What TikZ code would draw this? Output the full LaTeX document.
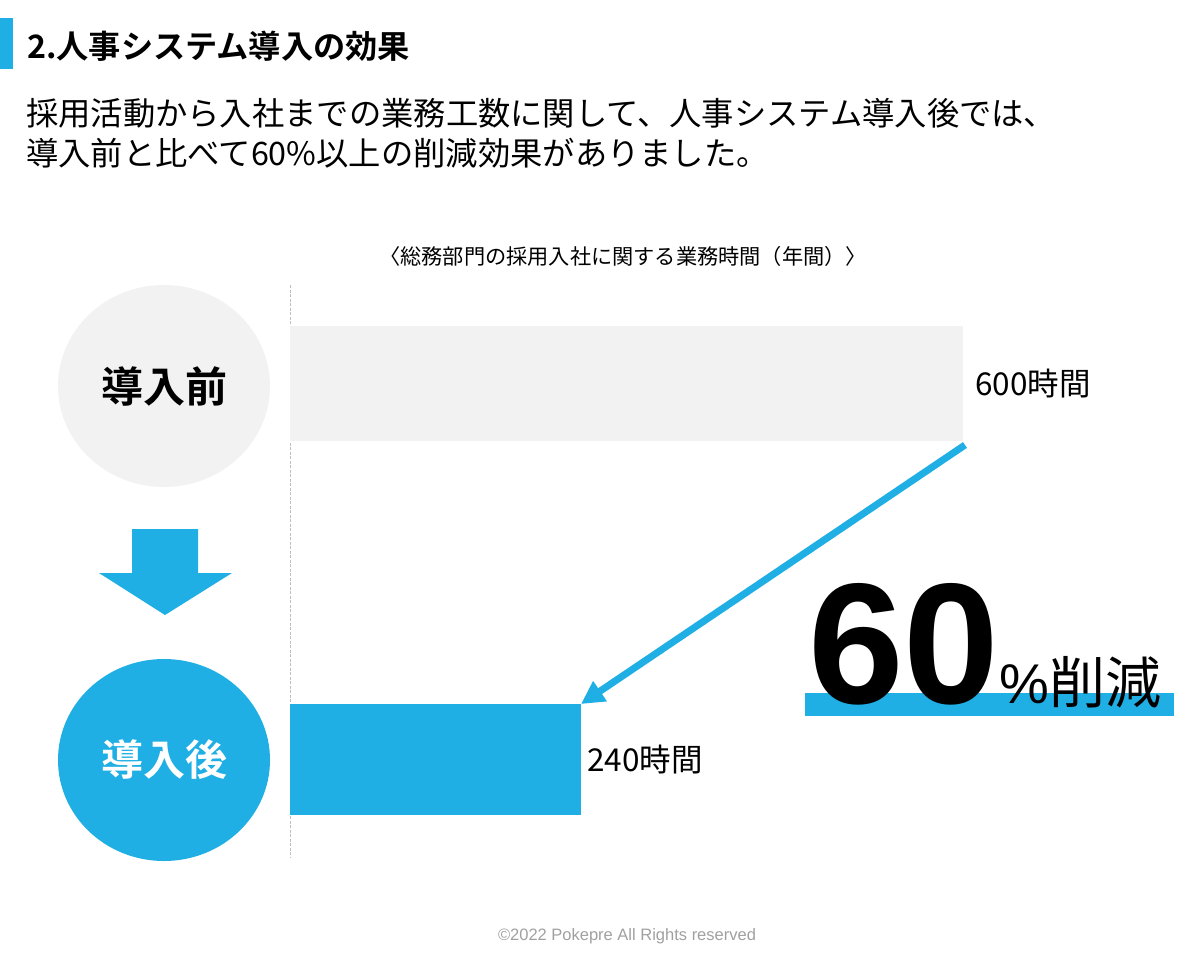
\documentclass[tikz,border=0pt]{standalone}
\usepackage{fontspec}
\setmainfont{Liberation Sans}
\newfontfamily\jp{Noto Sans CJK JP}[BoldFont={Noto Sans CJK JP Bold}]
\usepackage{tikz}
\usetikzlibrary{arrows.meta, positioning, shapes.geometric}
\definecolor{pkblue}{RGB}{31,175,228}
\definecolor{pkgray}{RGB}{242,242,242}
\definecolor{pkline}{RGB}{191,191,191}
\definecolor{pkfoot}{RGB}{160,160,160}

\begin{document}
\begin{tikzpicture}[x=1pt, y=-1pt,
  phase/.style={ellipse, minimum width=212pt, minimum height=202pt, inner sep=0pt,
    font=\jp\bfseries\fontsize{42}{42}\selectfont},
  bar/.style={anchor=north west, inner sep=0pt, outer sep=0pt},
  hours/.style={anchor=west, inner sep=0pt, font=\jp\fontsize{31.5}{31.5}\selectfont}
]
\useasboundingbox (0,0) rectangle (1200,962);

\fill[pkblue] (0,18) rectangle (13,69);
\node[anchor=west, inner sep=0pt, font=\jp\bfseries\fontsize{32.2}{32.2}\selectfont] (title) at (27,46) {2.人事システム導入の効果};
\node[anchor=west, inner sep=0pt, align=left, font=\jp\fontsize{32.3}{40}\selectfont] (lead) at (26,133)
  {採用活動から入社までの業務工数に関して、人事システム導入後では、\\導入前と比べて60\%以上の削減効果がありました。};
\node[inner sep=0pt, font=\jp\fontsize{21.2}{21.2}\selectfont] (caption) at (623,256) {〈総務部門の採用入社に関する業務時間（年間）〉};

\coordinate (axtop) at (290,285);
\coordinate (axbot) at (290,858);
\draw[pkline, line width=0.8pt, dash pattern=on 3pt off 1.5pt] (axtop) -- (axbot);

\node[phase, fill=pkgray] (pre) at (164,386) {導入前};
\node[phase, fill=pkblue, text=white] (post) at (164,760) {導入後};
\fill[pkblue] (132,529) -- (198,529) -- (198,573) -- (232,573) -- (165,615) -- (99,573) -- (132,573) -- cycle;

\node[bar, fill=pkgray, minimum width=673pt, minimum height=115pt] (before) at (290,326) {};
\node[bar, fill=pkblue, minimum width=291pt, minimum height=111pt] (after) at (290,704) {};
\node[hours, right=12pt of before] (h600) {600時間};
\node[hours, right=6pt of after] (h240) {240時間};

\coordinate (drop) at (965,445);
\draw[pkblue, line width=7pt, -{Triangle[length=23pt, width=23pt]}] (drop) -- (after.north east);

\fill[pkblue] (805,693) rectangle (1174,716);
\node[anchor=base west, inner sep=0pt, font=\bfseries\fontsize{172}{172}\selectfont] (pct) at (808,703) {60};
\node[anchor=base west, inner sep=0pt, font=\fontsize{56}{56}\selectfont] (cut) at (pct.base east) {\%{\jp 削減}};

\node[inner sep=0pt, text=pkfoot, font=\fontsize{16.5}{16.5}\selectfont] (foot) at (627,936) {©2022 Pokepre All Rights reserved};
\end{tikzpicture}
\end{document}
